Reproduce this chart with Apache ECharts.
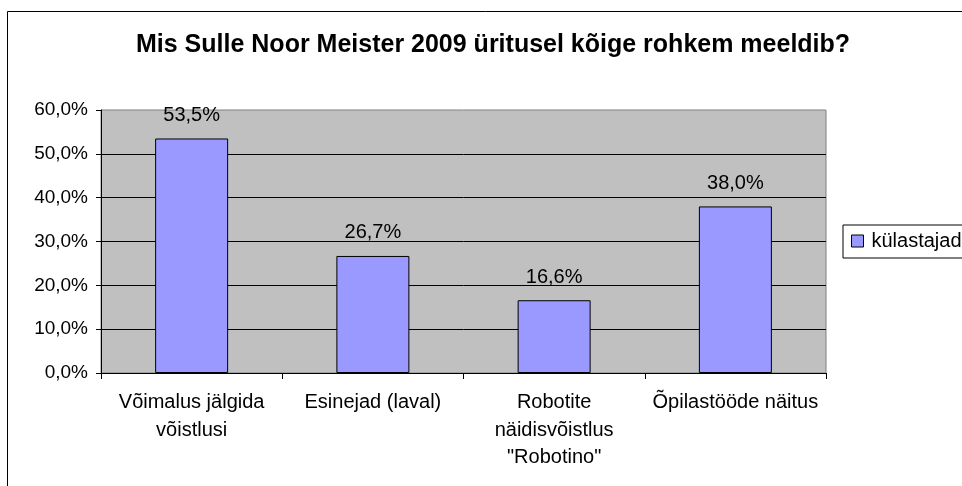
<!DOCTYPE html>
<html>
<head>
<meta charset="utf-8">
<script src="https://cdn.jsdelivr.net/npm/echarts@6/dist/echarts.min.js"></script>
<style>
  html, body { margin: 0; padding: 0; background: #fff; }
  #chart { width: 962px; height: 486px; }
</style>
</head>
<body>
<div id="chart"></div>
<script>
  // andmed
  var categories = ['Võimalus jälgida\nvõistlusi', 'Esinejad (laval)', 'Robotite\nnäidisvõistlus\n"Robotino"', 'Õpilastööde näitus']
  var seriesName = 'külastajad'
  var values = [53.5, 26.7, 16.6, 38.0]
  var yTicks = [0, 10, 20, 30, 40, 50, 60]

  var fmt = function (v) {
    return Number(v).toFixed(1).replace('.', ',') + '%'
  }

  var chart = echarts.init(document.getElementById('chart'))
  var option = {
    animation: false,
    backgroundColor: '#fff',
    textStyle: { fontFamily: '"Liberation Sans", Arial, sans-serif', color: '#000' },
    title: {
      text: 'Mis Sulle Noor Meister 2009 üritusel kõige rohkem meeldib?',
      left: 131,
      top: 28,
      textStyle: {
        fontFamily: '"Liberation Sans Narrow", "Liberation Sans", Arial, sans-serif',
        fontSize: 25,
        fontWeight: 'bold',
        color: '#000'
      }
    },
    legend: {
      left: 843,
      top: 225,
      padding: [6, 8, 7, 8],
      borderColor: '#000',
      borderWidth: 1,
      itemWidth: 12,
      itemHeight: 12,
      icon: 'rect',
      itemStyle: { color: '#9999FF', borderColor: '#000', borderWidth: 1 },
      textStyle: { fontSize: 20, color: '#000', padding: [0, 0, 0, 3] },
      data: [seriesName]
    },
    grid: {
      left: 101,
      right: 136,
      top: 110,
      bottom: 113,
      show: true,
      backgroundColor: '#C0C0C0',
      borderColor: '#808080',
      borderWidth: 1
    },
    xAxis: {
      type: 'category',
      data: categories,
      axisLine: { lineStyle: { color: '#000', width: 1 } },
      axisTick: { show: true, length: 6, lineStyle: { color: '#000' } },
      axisLabel: { fontSize: 20, color: '#000', lineHeight: 27.5, margin: 16, interval: 0 }
    },
    yAxis: {
      type: 'value',
      min: yTicks[0],
      max: yTicks[yTicks.length - 1],
      interval: 10,
      axisLine: { show: true, lineStyle: { color: '#000', width: 1 } },
      axisTick: { show: true, length: 5, lineStyle: { color: '#000' } },
      axisLabel: { fontSize: 19, color: '#000', margin: 13, formatter: fmt },
      splitLine: { show: true, showMaxLine: false, lineStyle: { color: '#000', width: 1 } }
    },
    series: [
      {
        name: seriesName,
        type: 'bar',
        data: values,
        barWidth: 73,
        itemStyle: { color: '#9999FF', borderColor: '#000', borderWidth: 1 },
        label: {
          show: true,
          position: 'top',
          distance: 13,
          fontSize: 20,
          color: '#000',
          formatter: function (p) { return fmt(p.value) }
        }
      }
    ],
    graphic: [
      {
        type: 'rect',
        silent: true,
        z: 100,
        shape: { x: 7.5, y: 11.5, width: 1000, height: 1000 },
        style: { fill: 'none', stroke: '#000', lineWidth: 1 }
      }
    ]
  }
  chart.setOption(option)
</script>
</body>
</html>
